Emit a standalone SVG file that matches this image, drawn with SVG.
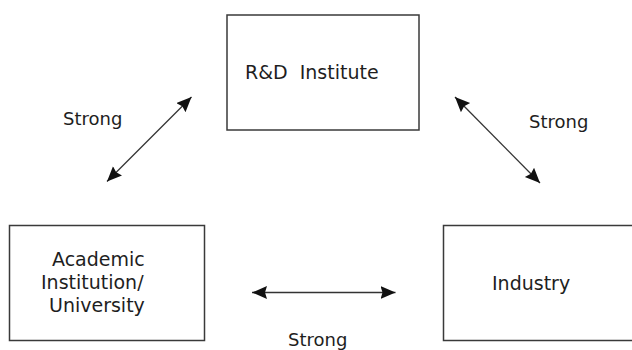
<svg xmlns="http://www.w3.org/2000/svg" width="632" height="350" viewBox="0 0 632 350">
<style>
.box{fill:#fff;stroke:#3a3a3a;stroke-width:1.5}
.t{font-family:"DejaVu Sans","Liberation Sans",sans-serif;font-size:19px;fill:#1e1e1e}
.s{font-family:"DejaVu Sans","Liberation Sans",sans-serif;font-size:18px;fill:#1e1e1e}
.c{stroke:#333;stroke-width:1.3;fill:none;marker-start:url(#ah);marker-end:url(#ah)}
</style>
<defs>
<marker id="ah" markerUnits="userSpaceOnUse" markerWidth="16" markerHeight="14" refX="15" refY="6.5" orient="auto-start-reverse">
<path d="M0,0 L15,6.5 L0,13 L2,6.5 z" fill="#111"/>
</marker>
</defs>
<rect width="632" height="350" fill="#fff"/>
<g id="rd">
<rect class="box" x="227" y="15" width="192" height="115"/>
<text class="t" x="245" y="79" xml:space="preserve">R&amp;D  Institute</text>
</g>
<g id="academic">
<rect class="box" x="9.5" y="225.5" width="195" height="115"/>
<text class="t" x="52" y="266">Academic</text>
<text class="t" x="41" y="289">Institution/</text>
<text class="t" x="49" y="312">University</text>
</g>
<g id="industry">
<rect class="box" x="443.5" y="225.5" width="200" height="115"/>
<text class="t" x="492" y="290">Industry</text>
</g>
<g id="connectors">
<line class="c" x1="107" y1="181.5" x2="191.5" y2="97"/>
<line class="c" x1="455" y1="97" x2="540" y2="183"/>
<line class="c" x1="252" y1="292.5" x2="395.5" y2="292.5"/>
<text class="s" x="63" y="125">Strong</text>
<text class="s" x="529" y="128">Strong</text>
<text class="s" x="288" y="346">Strong</text>
</g>
</svg>
